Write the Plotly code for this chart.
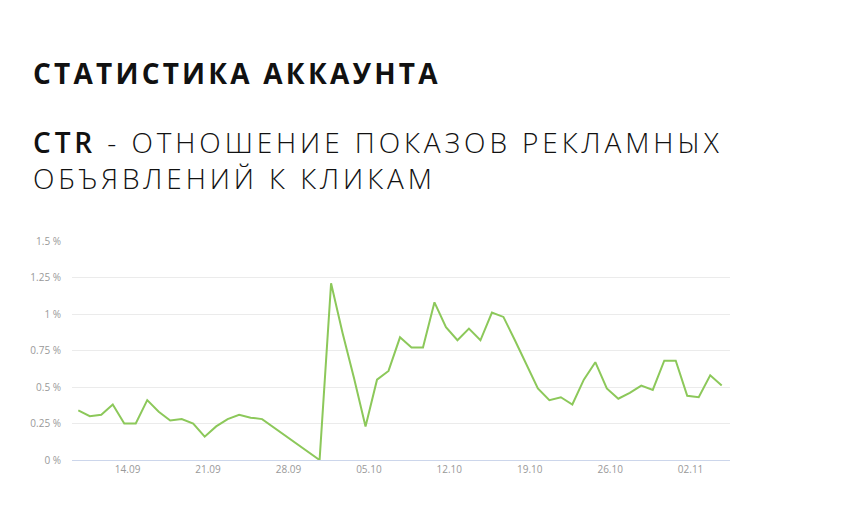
import plotly.graph_objects as go
import pandas as pd

start_date = "2015-09-10"
ctr_values = [
    0.34, 0.30, 0.31, 0.38, 0.25, 0.25, 0.41, 0.33, 0.27, 0.28,
    0.25, 0.16, 0.23, 0.28, 0.31, 0.29, 0.28, None, None, None,
    None, 0.00, 1.21, 0.87, 0.56, 0.23, 0.55, 0.61, 0.84, 0.77,
    0.77, 1.08, 0.91, 0.82, 0.90, 0.82, 1.01, 0.98, 0.82, 0.65,
    0.49, 0.41, 0.43, 0.38, 0.55, 0.67, 0.49, 0.42, 0.46, 0.51,
    0.48, 0.68, 0.68, 0.44, 0.43, 0.58, 0.51,
]
dates = pd.date_range(start_date, periods=len(ctr_values), freq="D")

x_tick_dates = ["2015-09-14", "2015-09-21", "2015-09-28", "2015-10-05",
                "2015-10-12", "2015-10-19", "2015-10-26", "2015-11-02"]
x_tick_labels = ["14.09", "21.09", "28.09", "05.10", "12.10", "19.10", "26.10", "02.11"]
y_tick_vals = [0, 0.25, 0.5, 0.75, 1, 1.25, 1.5]
y_tick_labels = ["0 %", "0.25 %", "0.5 %", "0.75 %", "1 %", "1.25 %", "1.5 %"]

title_main = "СТАТИСТИКА АККАУНТА"
subtitle_bold = "CTR"
subtitle_rest_1 = " - ОТНОШЕНИЕ ПОКАЗОВ РЕКЛАМНЫХ"
subtitle_2 = "ОБЪЯВЛЕНИЙ К КЛИКАМ"

# drop missing (line connects across the gap)
xs = [d for d, v in zip(dates, ctr_values) if v is not None]
ys = [v for v in ctr_values if v is not None]

tick_pos = [pd.Timestamp(d) + pd.Timedelta(hours=7) for d in x_tick_dates]

fig = go.Figure()
fig.add_trace(go.Scatter(
    x=xs, y=ys, mode="lines",
    line=dict(color="#8cc85a", width=2),
    hoverinfo="skip", showlegend=False,
))

L, R, T, B = 72, 130, 241, 60
W, H = 860, 520
pw, ph = W - L - R, H - T - B

def px_x(px):
    return (px - L) / pw

def px_y(py):
    return (H - B - py) / ph

fig.update_layout(
    width=W, height=H,
    margin=dict(l=L, r=R, t=T, b=B),
    paper_bgcolor="white", plot_bgcolor="white",
    font=dict(family="Open Sans", color="#999999"),
    xaxis=dict(
        range=[pd.Timestamp("2015-09-09 10:50"), pd.Timestamp("2015-11-05 17:20")],
        tickvals=tick_pos, ticktext=x_tick_labels,
        showgrid=False, zeroline=False,
        showline=True, linecolor="#ccd6eb", linewidth=1,
        ticks="", tickfont=dict(size=10, color="#999999"),
        fixedrange=True,
    ),
    yaxis=dict(
        range=[0, 1.5],
        tickvals=y_tick_vals, ticktext=y_tick_labels,
        showgrid=True, gridcolor="#ebebeb", gridwidth=1,
        zeroline=False, showline=False,
        ticks="", ticklabelstandoff=10,
        tickfont=dict(size=10, color="#999999"),
        fixedrange=True,
    ),
    annotations=[
        dict(text=f"<b>{title_main}</b>", xref="paper", yref="paper", align="left",
             x=px_x(31), y=px_y(73), xanchor="left", yanchor="middle",
             showarrow=False, font=dict(family="Open Sans", size=28, color="#111111")),
        dict(text=f"<span style='font-weight:600'>{subtitle_bold}</span>{subtitle_rest_1}<br>{subtitle_2}",
             xref="paper", yref="paper", align="left",
             x=px_x(31), y=px_y(160), xanchor="left", yanchor="middle",
             showarrow=False,
             font=dict(family="Open Sans", size=28, color="#111111", weight=300)),
    ],
)

post = """
var anns = document.querySelectorAll('.annotation-text');
anns.forEach(function(t, i){
  t.style.letterSpacing = (i === 0) ? '3.2px' : '3.9px';
  t.setAttribute('text-anchor', 'start');
});
"""
fig.write_html("out.html", post_script=post)
